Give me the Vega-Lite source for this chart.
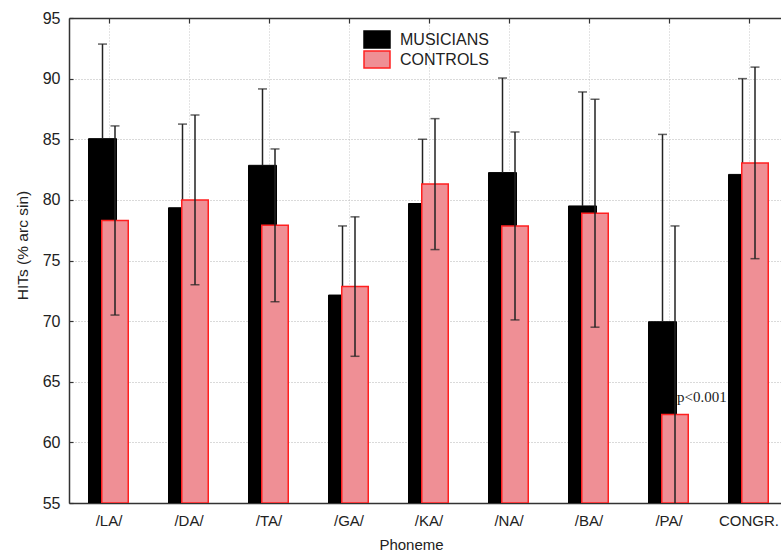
{
  "$schema": "https://vega.github.io/schema/vega-lite/v6.json",
  "autosize": "none",
  "width": 712,
  "height": 485,
  "padding": {"left": 69, "top": 18, "right": 0, "bottom": 49},
  "background": "white",
  "config": {
    "view": {"stroke": null},
    "font": "Liberation Sans",
    "axisY": {
      "grid": true, "gridDash": [1, 2], "gridColor": "#b4b4b4", "gridWidth": 1,
      "domainColor": "#333333", "domainWidth": 1.5,
      "tickColor": "#333333", "tickSize": -4, "tickWidth": 1.2,
      "labelFontSize": 16, "labelColor": "#222222", "labelPadding": 13,
      "titleFontSize": 15.5, "titleFontWeight": "normal", "titleColor": "#222222",
      "titleX": -42, "titleY": 227, "titleBaseline": "alphabetic"
    }
  },
  "data": {
    "values": [
      {"cat": "/LA/", "group": "MUSICIANS", "value": 85.05, "lo": 77.25, "hi": 92.85, "note": ""},
      {"cat": "/LA/", "group": "CONTROLS", "value": 78.3, "lo": 70.5, "hi": 86.1, "note": ""},
      {"cat": "/DA/", "group": "MUSICIANS", "value": 79.35, "lo": 72.45, "hi": 86.25, "note": ""},
      {"cat": "/DA/", "group": "CONTROLS", "value": 80.0, "lo": 73.0, "hi": 87.0, "note": ""},
      {"cat": "/TA/", "group": "MUSICIANS", "value": 82.85, "lo": 76.55, "hi": 89.15, "note": ""},
      {"cat": "/TA/", "group": "CONTROLS", "value": 77.9, "lo": 71.6, "hi": 84.2, "note": ""},
      {"cat": "/GA/", "group": "MUSICIANS", "value": 72.15, "lo": 66.45, "hi": 77.85, "note": ""},
      {"cat": "/GA/", "group": "CONTROLS", "value": 72.85, "lo": 67.1, "hi": 78.6, "note": ""},
      {"cat": "/KA/", "group": "MUSICIANS", "value": 79.7, "lo": 74.4, "hi": 85.0, "note": ""},
      {"cat": "/KA/", "group": "CONTROLS", "value": 81.3, "lo": 75.9, "hi": 86.7, "note": ""},
      {"cat": "/NA/", "group": "MUSICIANS", "value": 82.25, "lo": 74.45, "hi": 90.05, "note": ""},
      {"cat": "/NA/", "group": "CONTROLS", "value": 77.85, "lo": 70.1, "hi": 85.6, "note": ""},
      {"cat": "/BA/", "group": "MUSICIANS", "value": 79.5, "lo": 70.1, "hi": 88.9, "note": ""},
      {"cat": "/BA/", "group": "CONTROLS", "value": 78.9, "lo": 69.5, "hi": 88.3, "note": ""},
      {"cat": "/PA/", "group": "MUSICIANS", "value": 69.95, "lo": 54.5, "hi": 85.4, "note": ""},
      {"cat": "/PA/", "group": "CONTROLS", "value": 62.3, "lo": 46.8, "hi": 77.85, "note": "p<0.001"},
      {"cat": "CONGR.", "group": "MUSICIANS", "value": 82.1, "lo": 74.2, "hi": 90.0, "note": ""},
      {"cat": "CONGR.", "group": "CONTROLS", "value": 83.05, "lo": 75.15, "hi": 90.95, "note": ""}
    ]
  },
  "layer": [
    {
      "transform": [{"filter": "datum.group == 'MUSICIANS'"}],
      "mark": {"type": "bar", "width": 28, "xOffset": -6.5, "strokeWidth": 1, "clip": true},
      "encoding": {
        "x": {
          "field": "cat", "type": "nominal",
          "sort": ["/LA/", "/DA/", "/TA/", "/GA/", "/KA/", "/NA/", "/BA/", "/PA/", "CONGR."],
          "scale": {"range": [0, 720], "paddingInner": 0, "paddingOuter": 0},
          "axis": {
            "orient": "bottom", "title": "Phoneme", "grid": false, "labelAngle": 0,
            "domainColor": "#333333", "domainWidth": 1.5,
            "tickColor": "#333333", "tickSize": -3, "tickWidth": 1.2,
            "labelFontSize": 15, "labelColor": "#222222", "labelPadding": 13,
            "titleFontSize": 15, "titleFontWeight": "normal", "titleColor": "#222222",
            "titleX": 342, "titleY": 41, "titleBaseline": "middle"
          }
        },
        "y": {
          "field": "value", "type": "quantitative",
          "scale": {"domain": [55, 95], "nice": false, "zero": false},
          "axis": {
            "orient": "left", "values": [55, 60, 65, 70, 75, 80, 85, 90, 95],
            "title": "HITs (% arc sin)"
          }
        },
        "y2": {"datum": 55},
        "fill": {
          "field": "group", "type": "nominal",
          "scale": {"domain": ["MUSICIANS", "CONTROLS"], "range": ["#000000", "#ef8f95"]},
          "legend": {
            "orient": "none", "legendX": 294, "legendY": 11.5, "title": null,
            "symbolType": "M-1,-1.0625H2.25V1.0625H-1Z", "symbolSize": 256, "symbolStrokeWidth": 1.5,
            "labelFontSize": 16, "labelColor": "#222222", "labelOffset": 19, "rowPadding": 0, "clipHeight": 20
          }
        },
        "stroke": {
          "field": "group", "type": "nominal",
          "scale": {"domain": ["MUSICIANS", "CONTROLS"], "range": ["#000000", "#ff2020"]},
          "legend": {
            "orient": "none", "legendX": 294, "legendY": 11.5, "title": null,
            "symbolType": "M-1,-1.0625H2.25V1.0625H-1Z", "symbolSize": 256, "symbolStrokeWidth": 1.5,
            "labelFontSize": 16, "labelColor": "#222222", "labelOffset": 19, "rowPadding": 0, "clipHeight": 20
          }
        }
      }
    },
    {
      "transform": [{"filter": "datum.group == 'MUSICIANS'"}],
      "mark": {"type": "rule", "color": "#222222", "strokeWidth": 1.5, "xOffset": -6.5, "clip": true},
      "encoding": {
        "x": {"field": "cat", "type": "nominal", "sort": ["/LA/", "/DA/", "/TA/", "/GA/", "/KA/", "/NA/", "/BA/", "/PA/", "CONGR."], "axis": null},
        "y": {"field": "value", "type": "quantitative"},
        "y2": {"field": "hi"}
      }
    },
    {
      "transform": [{"filter": "datum.group == 'MUSICIANS'"}],
      "mark": {"type": "tick", "orient": "horizontal", "size": 9, "thickness": 1.5, "color": "#222222", "xOffset": -6.5, "clip": true},
      "encoding": {
        "x": {"field": "cat", "type": "nominal", "sort": ["/LA/", "/DA/", "/TA/", "/GA/", "/KA/", "/NA/", "/BA/", "/PA/", "CONGR."], "axis": null},
        "y": {"field": "hi", "type": "quantitative"}
      }
    },
    {
      "transform": [{"filter": "datum.group == 'CONTROLS'"}],
      "mark": {"type": "bar", "width": 26.5, "xOffset": 6, "strokeWidth": 1.5, "clip": true},
      "encoding": {
        "x": {
          "field": "cat", "type": "nominal",
          "sort": ["/LA/", "/DA/", "/TA/", "/GA/", "/KA/", "/NA/", "/BA/", "/PA/", "CONGR."],
          "axis": {
            "orient": "top", "title": null, "labels": false, "grid": true,
            "gridDash": [1, 2], "gridColor": "#c8c8c8", "gridWidth": 1,
            "domainColor": "#333333", "domainWidth": 1.5,
            "tickColor": "#333333", "tickSize": -5, "tickWidth": 1.2
          }
        },
        "y": {"field": "value", "type": "quantitative"},
        "y2": {"datum": 55},
        "fill": {"field": "group", "type": "nominal"},
        "stroke": {"field": "group", "type": "nominal"}
      }
    },
    {
      "transform": [{"filter": "datum.group == 'CONTROLS'"}],
      "mark": {"type": "rule", "color": "#222222", "strokeWidth": 1.5, "xOffset": 6, "clip": true},
      "encoding": {
        "x": {"field": "cat", "type": "nominal", "sort": ["/LA/", "/DA/", "/TA/", "/GA/", "/KA/", "/NA/", "/BA/", "/PA/", "CONGR."], "axis": null},
        "y": {"field": "lo", "type": "quantitative"},
        "y2": {"field": "hi"}
      }
    },
    {
      "transform": [{"filter": "datum.group == 'CONTROLS'"}, {"fold": ["lo", "hi"], "as": ["end", "cap"]}],
      "mark": {"type": "tick", "orient": "horizontal", "size": 9, "thickness": 1.5, "color": "#222222", "xOffset": 6, "clip": true},
      "encoding": {
        "x": {"field": "cat", "type": "nominal", "sort": ["/LA/", "/DA/", "/TA/", "/GA/", "/KA/", "/NA/", "/BA/", "/PA/", "CONGR."], "axis": null},
        "y": {"field": "cap", "type": "quantitative"}
      }
    },
    {
      "transform": [{"filter": "datum.note != ''"}],
      "mark": {"type": "text", "align": "left", "baseline": "alphabetic", "dx": 8, "dy": -12, "font": "Liberation Serif", "fontSize": 15, "color": "#222222"},
      "encoding": {
        "x": {"field": "cat", "type": "nominal", "sort": ["/LA/", "/DA/", "/TA/", "/GA/", "/KA/", "/NA/", "/BA/", "/PA/", "CONGR."], "axis": null},
        "y": {"field": "value", "type": "quantitative"},
        "text": {"field": "note"}
      }
    }
  ]
}
